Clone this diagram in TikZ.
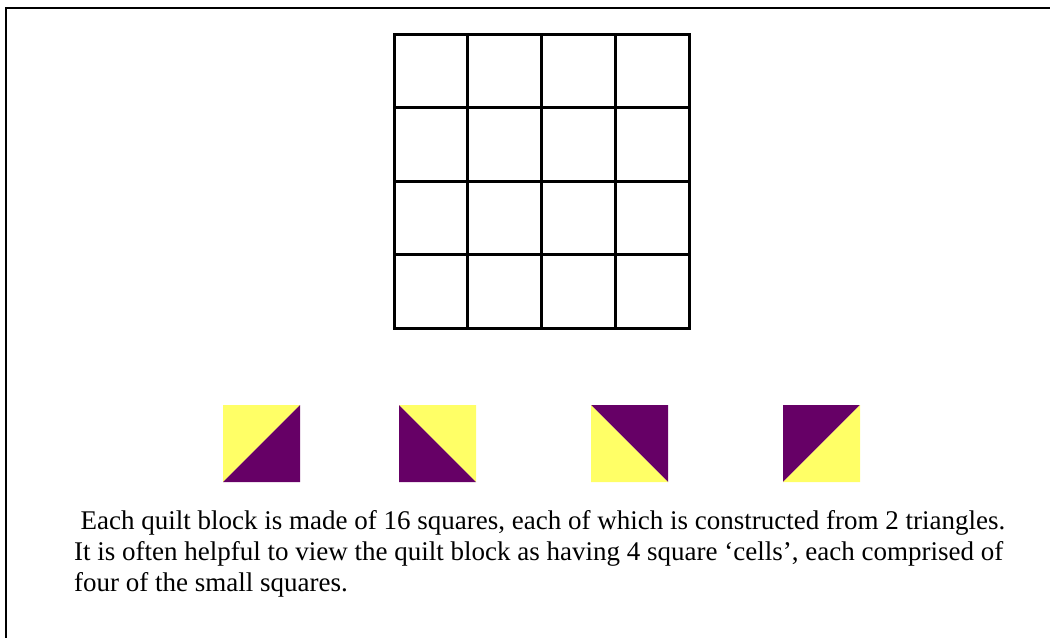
\documentclass[tikz,border=0pt]{standalone}
\usepackage{fontspec}
\setmainfont{Liberation Serif}
\definecolor{qyellow}{HTML}{FFFF66}
\definecolor{qpurple}{HTML}{660066}
\begin{document}
\begin{tikzpicture}[x=1pt,y=-1pt,
  frameline/.style={line width=2.5pt,black},
  gridline/.style={line width=3pt,black,line cap=rect},
  yel/.style={fill=qyellow},
  pur/.style={fill=qpurple},
  txt/.style={anchor=base west,inner sep=0pt,font=\fontsize{27}{31}\selectfont}]
\useasboundingbox (0,0) rectangle (1050,638);
% frame (top and left edges)
\coordinate (ftl) at (6,8);
\coordinate (ftr) at (1050,8);
\coordinate (fbl) at (6,638);
\draw[frameline] (ftr) -- (ftl) -- (fbl);
% grid
\foreach \i in {0,...,4}{
  \draw[gridline] (394+73.75*\i,34) -- (394+73.75*\i,328);
  \draw[gridline] (394,34+73.5*\i) -- (689,34+73.5*\i);
}
% square 1: yellow upper-left, purple lower-right
\fill[yel] (223,405) -- (300,405) -- (223,482) -- cycle;
\fill[pur] (300,405) -- (300,482) -- (223,482) -- cycle;
% square 2: yellow upper-right, purple lower-left
\fill[yel] (399,405) -- (476,405) -- (476,482) -- cycle;
\fill[pur] (399,405) -- (476,482) -- (399,482) -- cycle;
% square 3: purple upper-right, yellow lower-left
\fill[pur] (591,405) -- (668,405) -- (668,482) -- cycle;
\fill[yel] (591,405) -- (668,482) -- (591,482) -- cycle;
% square 4: purple upper-left, yellow lower-right
\fill[pur] (783,405) -- (860,405) -- (783,482) -- cycle;
\fill[yel] (860,405) -- (860,482) -- (783,482) -- cycle;
% text
\node[txt] (l1) at (80.5,529) {Each quilt block is made of 16 squares, each of which is constructed from 2 triangles.};
\node[txt] (l2) at (74,560) {It is often helpful to view the quilt block as having 4 square ‘cells’, each comprised of};
\node[txt] (l3) at (74,591) {four of the small squares.};
\end{tikzpicture}
\end{document}
